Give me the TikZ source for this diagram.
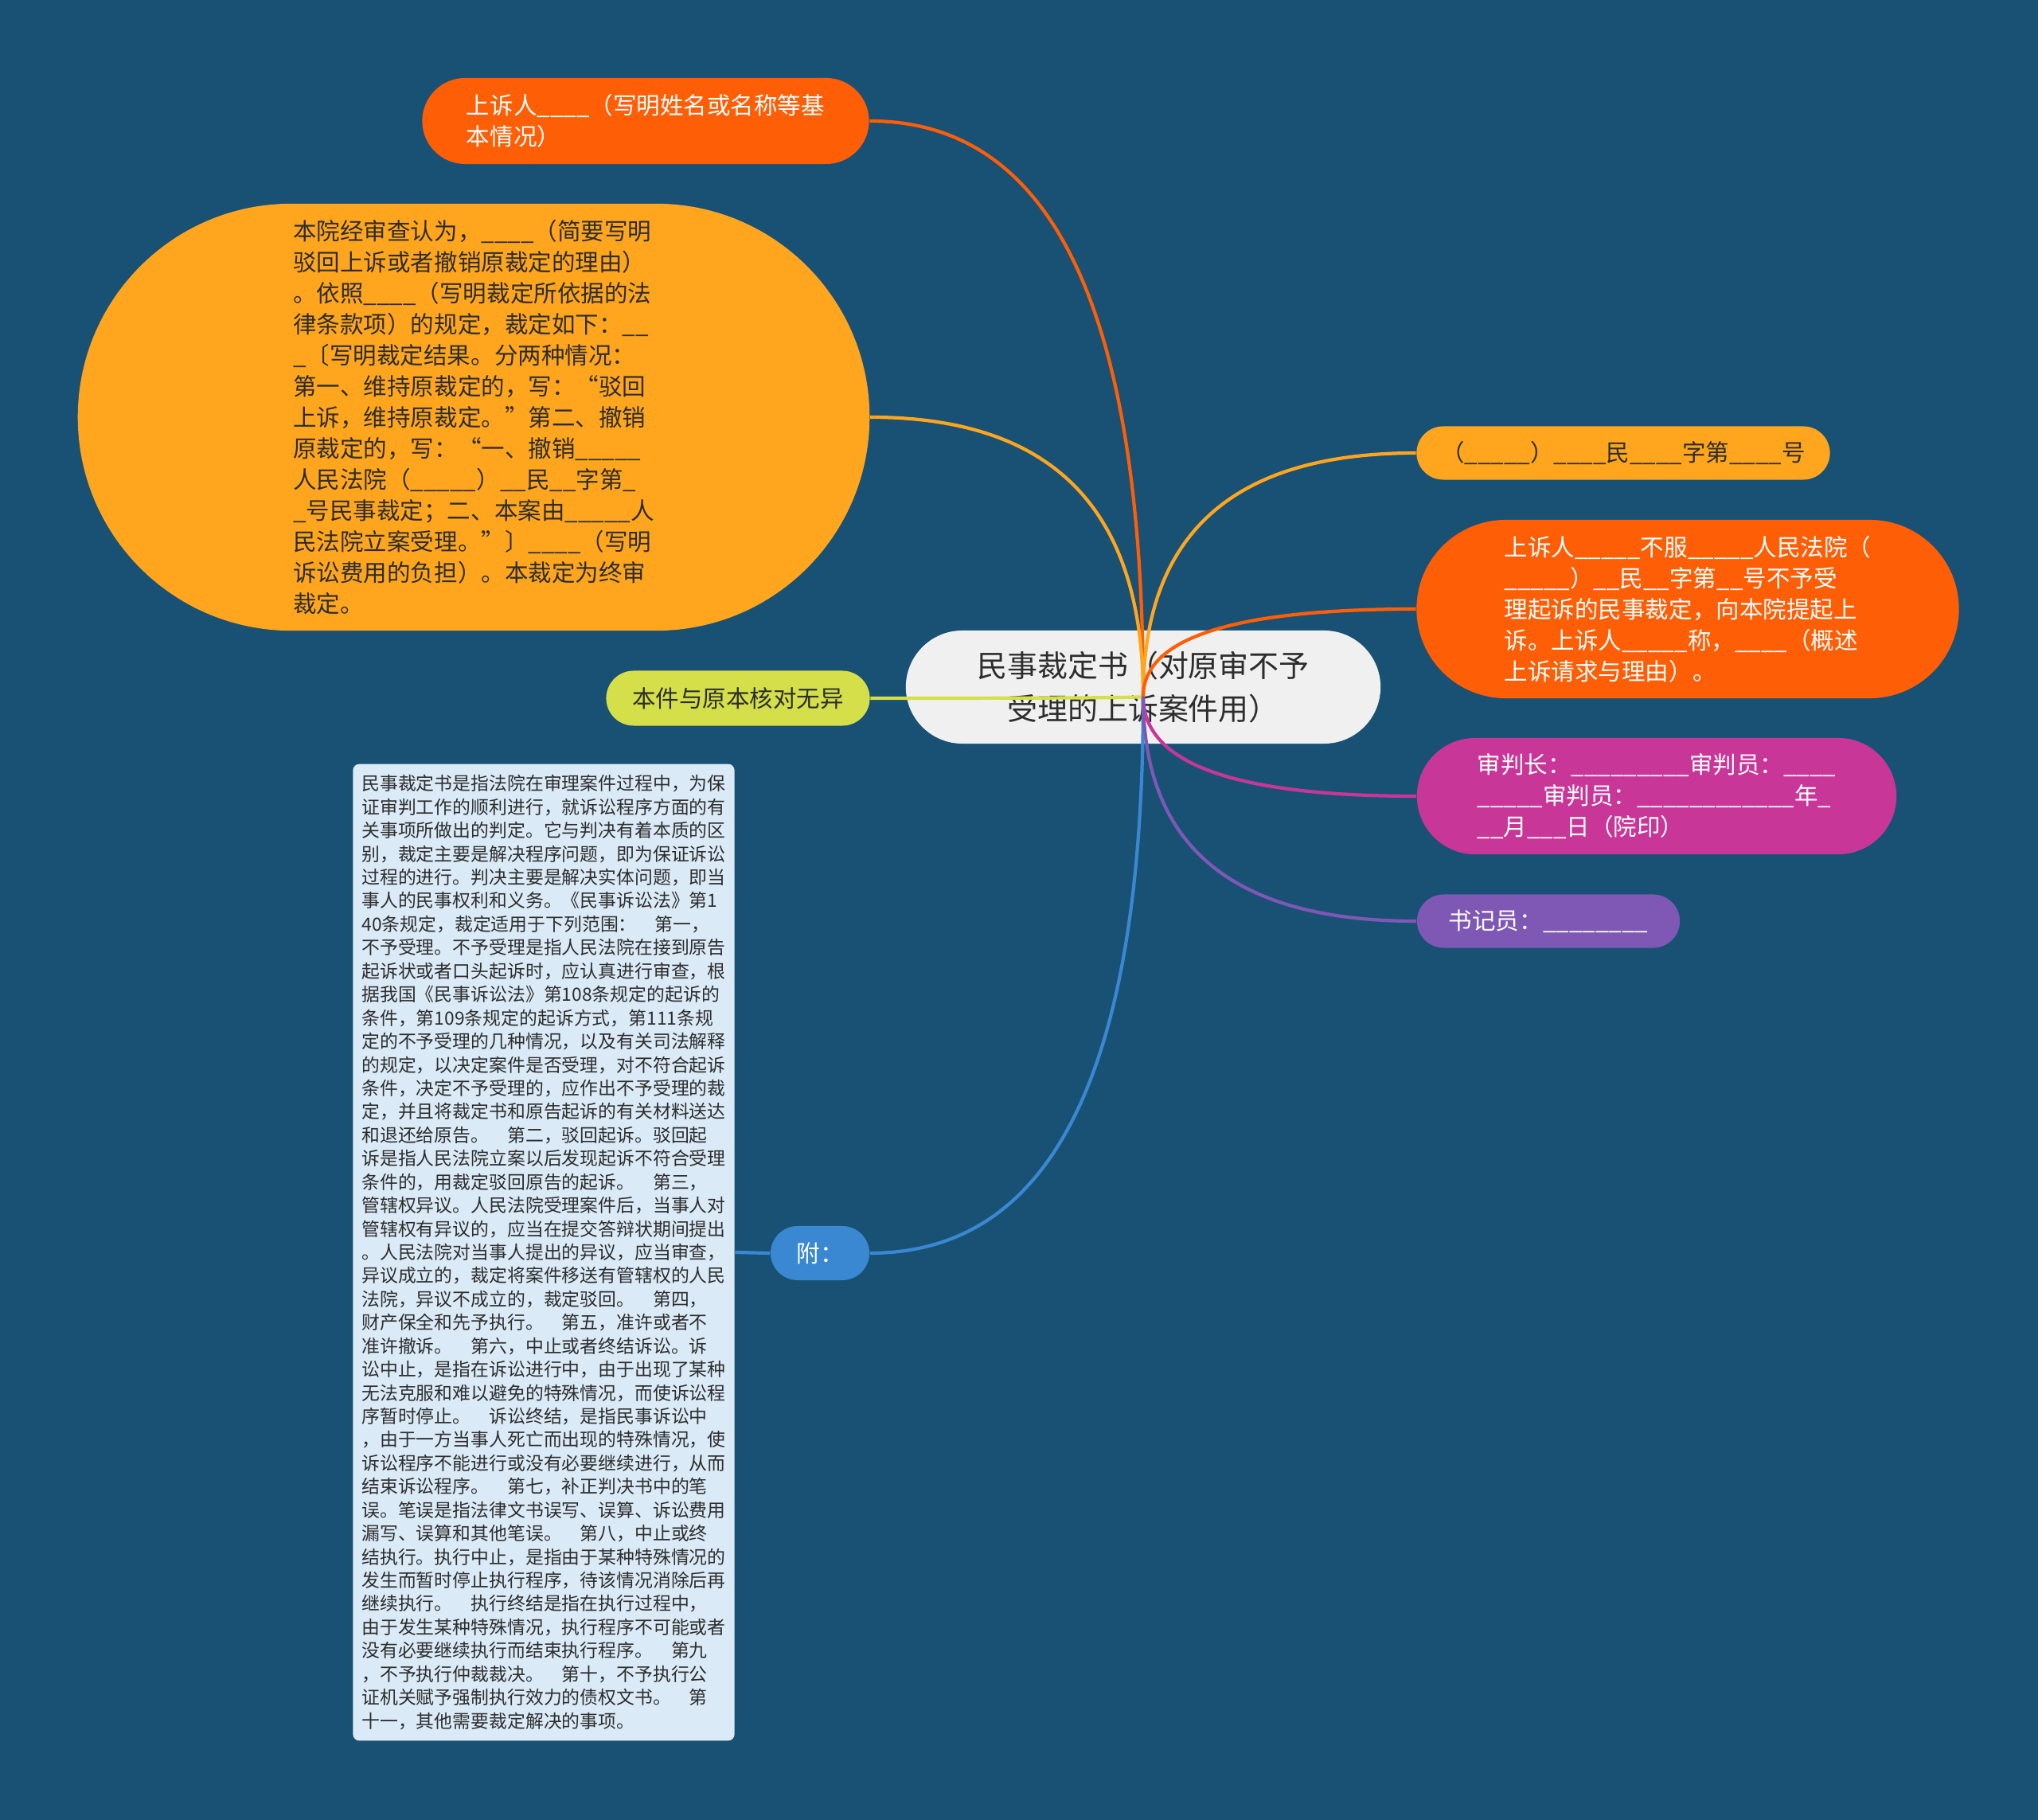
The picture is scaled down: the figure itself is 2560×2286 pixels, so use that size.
\documentclass[tikz,border=0pt]{standalone}
\usepackage{fontspec}
\setmainfont{Noto Sans CJK SC}
\usetikzlibrary{calc}
\definecolor{bgblue}{RGB}{25,81,117}
\definecolor{rootgray}{RGB}{240,240,240}
\definecolor{darktext}{RGB}{45,45,45}
\definecolor{hotorange}{RGB}{254,94,5}
\definecolor{amber}{RGB}{255,166,30}
\definecolor{limegreen}{RGB}{212,223,74}
\definecolor{fublue}{RGB}{57,136,209}
\definecolor{notefill}{RGB}{219,234,247}
\definecolor{judgepink}{RGB}{200,55,152}
\definecolor{clerkpurple}{RGB}{126,88,180}
\newcommand\gap{\hspace{1em}}
\tikzset{
  bubble/.style={inner sep=0pt,align=left,font=\fontsize{8.4pt}{11.1pt}\selectfont},
  notebox/.style={fill=notefill,text=darktext,rounded corners=0.08cm,inner sep=0pt,
    minimum width=4.79cm,minimum height=12.26cm,align=left,
    font=\fontsize{6.5pt}{8.37pt}\selectfont},
  link/.style={line width=1.2pt}
}
\begin{document}
\begin{tikzpicture}[x=0.01cm,y=-0.01cm]
\fill[bgblue] (0,0) rectangle (2560,2286);
\useasboundingbox (0,0) rectangle (2560,2286);
% centre
\node[bubble,fill=rootgray,text=darktext,minimum width=5.96cm,minimum height=1.42cm,rounded corners=0.71cm,align=center,font=\fontsize{10.8pt}{15.4pt}\selectfont] (root) at (1436,863) {民事裁定书（对原审不予\\受理的上诉案件用）};
\coordinate (hub) at (1436,875);
% left side
\node[bubble,fill=hotorange,text=white,minimum width=5.61cm,minimum height=1.08cm,rounded corners=0.54cm] (appellant) at (811,152) {上诉人\_\_\_\_（写明姓名或名称等基\\本情况）};
\node[bubble,fill=amber,text=darktext,minimum width=9.94cm,minimum height=5.36cm,rounded corners=2.68cm] (ruling) at (595,524) {本院经审查认为，\_\_\_\_（简要写明\\驳回上诉或者撤销原裁定的理由）\\。依照\_\_\_\_（写明裁定所依据的法\\律条款项）的规定，裁定如下：\_\_\\\_〔写明裁定结果。分两种情况：\\第一、维持原裁定的，写：“驳回\\上诉，维持原裁定。”第二、撤销\\原裁定的，写：“一、撤销\_\_\_\_\_\\人民法院（\_\_\_\_\_）\_\_民\_\_字第\_\\\_号民事裁定；二、本案由\_\_\_\_\_人\\民法院立案受理。”〕\_\_\_\_（写明\\诉讼费用的负担）。本裁定为终审\\裁定。};
\node[bubble,fill=limegreen,text=darktext,minimum width=3.31cm,minimum height=0.69cm,rounded corners=0.345cm] (copy) at (927,877) {本件与原本核对无异};
\node[bubble,fill=fublue,text=white,minimum width=1.24cm,minimum height=0.68cm,rounded corners=0.34cm] (fu) at (1030,1574) {附：};
\node[notebox] (note) at (683,1573) {民事裁定书是指法院在审理案件过程中，为保\\证审判工作的顺利进行，就诉讼程序方面的有\\关事项所做出的判定。它与判决有着本质的区\\别，裁定主要是解决程序问题，即为保证诉讼\\过程的进行。判决主要是解决实体问题，即当\\事人的民事权利和义务。《民事诉讼法》第1\\40条规定，裁定适用于下列范围：\gap 第一，\\不予受理。不予受理是指人民法院在接到原告\\起诉状或者口头起诉时，应认真进行审查，根\\据我国《民事诉讼法》第108条规定的起诉的\\条件，第109条规定的起诉方式，第111条规\\定的不予受理的几种情况，以及有关司法解释\\的规定，以决定案件是否受理，对不符合起诉\\条件，决定不予受理的，应作出不予受理的裁\\定，并且将裁定书和原告起诉的有关材料送达\\和退还给原告。\gap 第二，驳回起诉。驳回起\\诉是指人民法院立案以后发现起诉不符合受理\\条件的，用裁定驳回原告的起诉。\gap 第三，\\管辖权异议。人民法院受理案件后，当事人对\\管辖权有异议的，应当在提交答辩状期间提出\\。人民法院对当事人提出的异议，应当审查，\\异议成立的，裁定将案件移送有管辖权的人民\\法院，异议不成立的，裁定驳回。\gap 第四，\\财产保全和先予执行。\gap 第五，准许或者不\\准许撤诉。\gap 第六，中止或者终结诉讼。诉\\讼中止，是指在诉讼进行中，由于出现了某种\\无法克服和难以避免的特殊情况，而使诉讼程\\序暂时停止。\gap 诉讼终结，是指民事诉讼中\\，由于一方当事人死亡而出现的特殊情况，使\\诉讼程序不能进行或没有必要继续进行，从而\\结束诉讼程序。\gap 第七，补正判决书中的笔\\误。笔误是指法律文书误写、误算、诉讼费用\\漏写、误算和其他笔误。\gap 第八，中止或终\\结执行。执行中止，是指由于某种特殊情况的\\发生而暂时停止执行程序，待该情况消除后再\\继续执行。\gap 执行终结是指在执行过程中，\\由于发生某种特殊情况，执行程序不可能或者\\没有必要继续执行而结束执行程序。\gap 第九\\，不予执行仲裁裁决。\gap 第十，不予执行公\\证机关赋予强制执行效力的债权文书。\gap 第\\十一，其他需要裁定解决的事项。};
% right side
\node[bubble,fill=amber,text=darktext,minimum width=5.19cm,minimum height=0.67cm,rounded corners=0.335cm] (caseno) at (2039,569) {（\_\_\_\_\_）\_\_\_\_民\_\_\_\_字第\_\_\_\_号};
\node[bubble,fill=hotorange,text=white,minimum width=6.81cm,minimum height=2.24cm,rounded corners=1.12cm] (appeal) at (2120,765) {上诉人\_\_\_\_\_不服\_\_\_\_\_人民法院（\\\_\_\_\_\_）\_\_民\_\_字第\_\_号不予受\\理起诉的民事裁定，向本院提起上\\诉。上诉人\_\_\_\_\_称，\_\_\_\_（概述\\上诉请求与理由）。};
\node[bubble,fill=judgepink,text=white,minimum width=6.02cm,minimum height=1.46cm,rounded corners=0.73cm] (judges) at (2081,1000) {审判长：\_\_\_\_\_\_\_\_\_审判员：\_\_\_\_\\\_\_\_\_\_审判员：\_\_\_\_\_\_\_\_\_\_\_\_年\_\\\_\_月\_\_\_日（院印）};
\node[bubble,fill=clerkpurple,text=white,minimum width=3.30cm,minimum height=0.67cm,rounded corners=0.335cm] (clerk) at (1945,1157) {书记员：\_\_\_\_\_\_\_\_};
% links
\draw[link,hotorange] (hub) .. controls ($(hub)!0.67!(hub |- appellant.east)$) and ($(appellant.east)!0.67!(hub |- appellant.east)$) .. (appellant.east);
\draw[link,amber] (hub) .. controls ($(hub)!0.67!(hub |- ruling.east)$) and ($(ruling.east)!0.67!(hub |- ruling.east)$) .. (ruling.east);
\draw[link,limegreen] (hub) .. controls ($(hub)!0.67!(hub |- copy.east)$) and ($(copy.east)!0.67!(hub |- copy.east)$) .. (copy.east);
\draw[link,fublue] (hub) .. controls ($(hub)!0.67!(hub |- fu.east)$) and ($(fu.east)!0.67!(hub |- fu.east)$) .. (fu.east);
\draw[link,fublue] (fu.west) -- (note.east);
\draw[link,amber] (hub) .. controls ($(hub)!0.67!(hub |- caseno.west)$) and ($(caseno.west)!0.67!(hub |- caseno.west)$) .. (caseno.west);
\draw[link,hotorange] (hub) .. controls ($(hub)!0.67!(hub |- appeal.west)$) and ($(appeal.west)!0.67!(hub |- appeal.west)$) .. (appeal.west);
\draw[link,judgepink] (hub) .. controls ($(hub)!0.67!(hub |- judges.west)$) and ($(judges.west)!0.67!(hub |- judges.west)$) .. (judges.west);
\draw[link,clerkpurple] (hub) .. controls ($(hub)!0.67!(hub |- clerk.west)$) and ($(clerk.west)!0.67!(hub |- clerk.west)$) .. (clerk.west);
\end{tikzpicture}
\end{document}
